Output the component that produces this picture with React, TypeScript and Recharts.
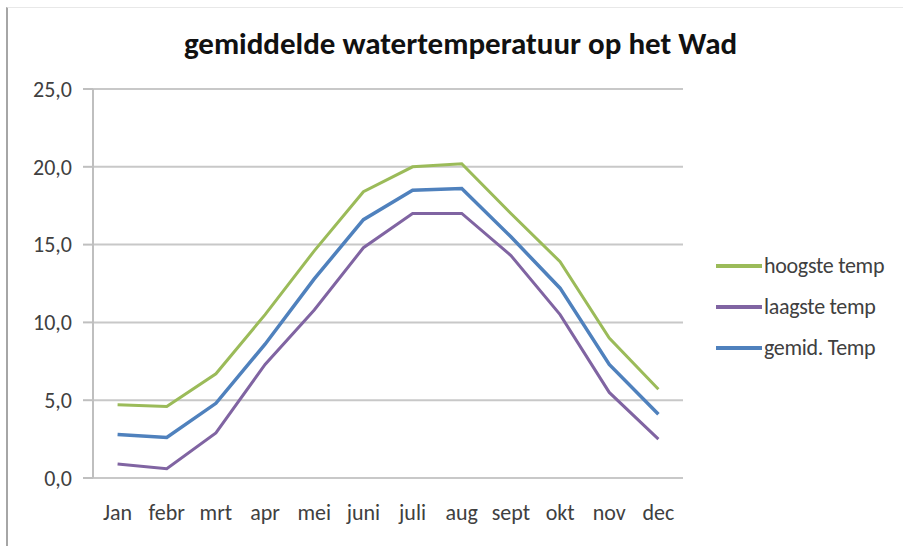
import React from 'react';
import { LineChart, Line, XAxis, YAxis, CartesianGrid, Legend } from 'recharts';

const months = ['Jan', 'febr', 'mrt', 'apr', 'mei', 'juni', 'juli', 'aug', 'sept', 'okt', 'nov', 'dec'];
const hoogste = [4.7, 4.6, 6.7, 10.5, 14.6, 18.4, 20.0, 20.2, 17.0, 13.9, 9.0, 5.7];
const laagste = [0.9, 0.6, 2.9, 7.3, 10.8, 14.8, 17.0, 17.0, 14.3, 10.5, 5.5, 2.5];
const gemid = [2.8, 2.6, 4.8, 8.6, 12.8, 16.6, 18.5, 18.6, 15.5, 12.2, 7.3, 4.1];
const yTicks = [0, 5, 10, 15, 20, 25];
const boundaryTicks = [0, 1, 2, 3, 4, 5, 6, 7, 8, 9, 10, 11, 12];
const seriesNames = ['hoogste temp', 'laagste temp', 'gemid. Temp'];

const data = months.map((m, i) => ({
  month: m,
  idx: i + 0.5,
  hoogste: hoogste[i],
  laagste: laagste[i],
  gemid: gemid[i],
}));

const FONT = 'Carlito, Lato, "Open Sans", sans-serif';
const PLOT_W = 590;
const HALF_BAND = PLOT_W / months.length / 2;

const LegendContent = (props: any) => {
  const { payload } = props;
  const items = [...(payload || [])].sort(
    (a: any, b: any) => seriesNames.indexOf(a.value) - seriesNames.indexOf(b.value)
  );
  return (
    <div style={{ fontFamily: FONT }}>
      {items.map((p: any) => (
        <div key={p.value} style={{ display: 'flex', alignItems: 'center', height: 41 }}>
          <div style={{ width: 46, height: 4, background: p.color, marginRight: 2 }} />
          <span style={{ fontSize: 22, color: '#404040', letterSpacing: -0.3 }}>{p.value}</span>
        </div>
      ))}
    </div>
  );
};

export default function App() {
  return (
    <div
      style={{
        position: 'absolute',
        left: 0,
        top: 0,
        width: 903,
        height: 546,
        background: '#fff',
        fontFamily: FONT,
      }}
    >
      <div
        style={{
          position: 'absolute',
          left: 6,
          top: 7,
          width: 897,
          height: 539,
          borderLeft: '2px solid #a6a6a6',
          borderTop: '1px solid #e8e8e8',
          boxSizing: 'border-box',
        }}
      />
      <div
        style={{
          position: 'absolute',
          left: 0,
          width: 903,
          top: 24,
          textAlign: 'center',
          paddingLeft: 18,
          boxSizing: 'border-box',
          fontSize: 31,
          fontWeight: 'bold',
          color: '#111',
          fontFamily: FONT,
        }}
      >
        gemiddelde watertemperatuur op het Wad
      </div>
      <div style={{ position: 'absolute', left: 0, top: 0 }}>
        <LineChart
          width={903}
          height={546}
          data={data}
          margin={{ top: 89, right: 220, bottom: 38, left: 33 }}
        >
          <CartesianGrid vertical={false} stroke="#c8c8c8" strokeWidth={2} />
          <XAxis
            dataKey="month"
            xAxisId="cat"
            tickLine={false}
            axisLine={false}
            tickSize={0}
            tickMargin={26}
            interval={0}
            padding={{ left: HALF_BAND, right: HALF_BAND }}
            tick={{ fill: '#404040', fontSize: 22, fontFamily: FONT }}
            height={30}
          />
          <XAxis
            xAxisId="bounds"
            dataKey="idx"
            type="number"
            domain={[0, 12]}
            ticks={boundaryTicks}
            allowDataOverflow
            tick={false}
            tickSize={6}
            tickLine={{ stroke: '#bfbfbf', strokeWidth: 2 }}
            axisLine={{ stroke: '#bfbfbf', strokeWidth: 2 }}
            height={0}
          />
          <YAxis
            domain={[0, 25]}
            ticks={yTicks}
            width={60}
            tickSize={10}
            tickMargin={11}
            tickFormatter={(v: number) => v.toFixed(1).replace('.', ',')}
            tick={{ fill: '#404040', fontSize: 22, fontFamily: FONT }}
            tickLine={{ stroke: '#bfbfbf', strokeWidth: 2 }}
            axisLine={{ stroke: '#bfbfbf', strokeWidth: 2 }}
          />
          <Legend
            layout="vertical"
            align="center"
            verticalAlign="middle"
            content={<LegendContent />}
            wrapperStyle={{ left: 716, top: 245, width: 185 }}
          />
          <Line
            xAxisId="cat"
            dataKey="hoogste"
            name="hoogste temp"
            stroke="#9BBB59"
            strokeWidth={3}
            dot={false}
            isAnimationActive={false}
          />
          <Line
            xAxisId="cat"
            dataKey="laagste"
            name="laagste temp"
            stroke="#8064A2"
            strokeWidth={3}
            dot={false}
            isAnimationActive={false}
          />
          <Line
            xAxisId="cat"
            dataKey="gemid"
            name="gemid. Temp"
            stroke="#4F81BD"
            strokeWidth={3.5}
            dot={false}
            isAnimationActive={false}
          />
        </LineChart>
      </div>
    </div>
  );
}
